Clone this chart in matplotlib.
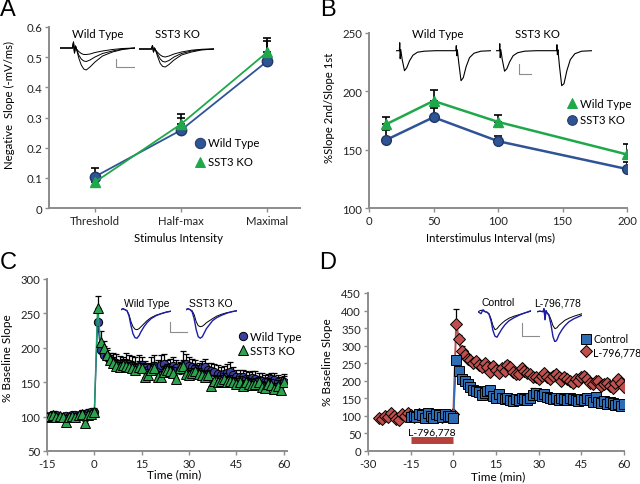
import numpy as np
import matplotlib
matplotlib.use('Agg')
import matplotlib.pyplot as plt
from matplotlib.ticker import FuncFormatter

plt.rcParams['font.family'] = ['Lato', 'DejaVu Sans']
plt.rcParams['axes.unicode_minus'] = False
plt.rcParams['font.size'] = 8

W, H = 640, 485
GRAY = '#8c8c8c'
BLUE = '#2f5496'
GREEN = '#1fa84a'
NAVY = '#3b3f9f'
TRACE_BLUE = '#1c1ca8'
SQ_BLUE = '#2e6db4'
RED = '#c0504d'
FS = 8.2

# ---------------- data ----------------
# A: input/output
a_categories = ['Threshold', 'Half-max', 'Maximal']
a_wt = [0.104, 0.258, 0.486]
a_wt_err = [0.030, 0.052, 0.069]
a_ko = [0.086, 0.278, 0.516]
a_ko_err = [0.015, 0.022, 0.047]

# B: paired pulse
b_isi = [13, 50, 100, 200]
b_wt = [171.6, 191.8, 173.8, 145.9]
b_wt_err = [6.8, 9.2, 5.7, 9.1]
b_ko = [158.2, 177.8, 157.3, 133.4]
b_ko_err = [9.0, 7.7, 4.5, 6.2]

# C: LTP, wild type vs SST3 KO (t = -15..60 min)
c_wt = [100, 101, 103, 102, 99, 100, 101, 100, 102, 103, 101, 104, 103, 105, 106, 107,
        238, 197, 190, 186, 182, 180, 178, 177, 176, 178,
        177, 175, 172, 174, 175, 170, 168, 172, 173, 170,
        175, 177, 170, 172, 173, 170, 168, 175, 177, 174,
        172, 170, 168, 170, 172, 168, 166, 165, 162, 160,
        162, 164, 165, 160, 158, 157, 158, 155, 154, 156,
        155, 153, 152, 150, 152, 155, 153, 150, 148, 150]
c_wt_err = [4, 4, 5, 4, 4, 5, 4, 4, 5, 4, 5, 5, 4, 6, 5, 5,
            15, 12, 12, 11, 10, 12, 13, 11, 10, 14,
            12, 13, 14, 15, 12, 11, 10, 14, 16, 12,
            15, 14, 12, 11, 13, 12, 11, 20, 14, 12,
            11, 12, 10, 11, 12, 10, 12, 11, 13, 12,
            11, 13, 14, 12, 10, 11, 10, 12, 11, 10,
            11, 10, 12, 11, 10, 9, 10, 11, 10, 12]
c_ko = [100, 101, 102, 100, 101, 99, 92, 100, 101, 100, 102, 104, 91, 103, 104, 106,
        258, 208, 200, 190, 182, 178, 173, 172, 175, 173,
        172, 170, 168, 172, 170, 158, 160, 168, 170, 158,
        158, 165, 168, 166, 163, 155, 170, 173, 162, 160,
        163, 166, 162, 160, 158, 160, 145, 152, 150, 152,
        155, 150, 152, 150, 148, 150, 145, 150, 148, 146,
        148, 150, 143, 142, 148, 146, 140, 145, 138, 150]
c_ko_err = [3, 3, 4, 3, 3, 4, 3, 3, 4, 3, 4, 4, 3, 4, 4, 4,
            18, 17, 10, 9, 8, 8, 9, 8, 8, 9,
            8, 9, 8, 9, 8, 8, 9, 8, 9, 8,
            8, 9, 8, 8, 9, 8, 8, 9, 8, 8,
            8, 9, 8, 8, 9, 8, 8, 8, 9, 8,
            8, 9, 8, 8, 8, 9, 8, 8, 8, 9,
            8, 8, 9, 8, 8, 8, 9, 8, 8, 9]

# D: LTP, control vs L-796,778
d_ctrl = [98, 100, 96, 105, 102, 95, 108, 100, 94, 106, 103, 97, 104, 100, 99, 95,
          258, 228, 205, 200, 192, 182, 175, 170, 168, 160,
          165, 172, 175, 158, 152, 162, 150, 148, 152, 145,
          143, 148, 145, 150, 147, 145, 150, 160, 165, 160,
          158, 162, 155, 150, 148, 152, 145, 150, 148, 145,
          150, 148, 145, 142, 148, 145, 150, 145, 140, 155,
          140, 138, 142, 135, 140, 138, 130, 135, 128, 135]
d_ctrl_err = [5, 6, 5, 6, 5, 6, 5, 6, 5, 6, 5, 6, 5, 6, 5, 6,
              10, 8, 8, 7, 7, 7, 6, 6, 7, 6,
              7, 8, 7, 6, 6, 7, 6, 6, 6, 6,
              6, 6, 6, 6, 6, 6, 8, 20, 12, 10,
              8, 7, 6, 6, 6, 7, 6, 6, 6, 6,
              6, 6, 6, 6, 6, 6, 7, 6, 6, 7,
              6, 6, 6, 6, 6, 6, 6, 6, 6, 6]
d_drug = [95, 92, 100, 98, 108, 100, 92, 88, 105, 100, 108, 102, 98, 100, 105, 103,
          100, 102, 98, 100, 103, 100, 98, 102, 100, 101, 105,
          363, 318, 285, 272, 262, 258, 250, 255, 245, 240,
          250, 238, 225, 242, 230, 222, 235, 228, 245, 238,
          225, 218, 220, 235, 228, 222, 218, 212, 210, 205,
          215, 222, 210, 205, 215, 218, 210, 200, 212, 205,
          200, 195, 205, 200, 210, 215, 205, 195, 190, 200,
          198, 185, 190, 195, 185, 180, 195, 205, 195, 182]
d_drug_err = [5] * 27 + [42, 12, 15, 12, 10, 10, 9, 9, 9, 9,
                         9, 9, 9, 9, 9, 9, 9, 9, 10, 9,
                         9, 9, 9, 9, 9, 9, 9, 9, 9, 9,
                         9, 9, 9, 9, 9, 9, 9, 9, 9, 9,
                         9, 9, 9, 9, 10, 9, 9, 9, 9, 9,
                         9, 9, 9, 9, 9, 9, 9, 9, 9, 9]
d_drug_window = [-15, 0]

c_time = np.arange(-15, 61)
d_ctrl_time = np.arange(-15, 61)
d_drug_time = np.arange(-26, 61)

# example traces (hand)
ta = [0, 5, 5.4, 5.8, 6.2, 6.6, 7.5, 8.5, 9.5, 10.5, 12, 14, 17, 21, 25, 30]
a_wt_traces = [
    [0, 0, 0.6, -0.5, 0.2, -0.1, -1.0, -1.7, -2.1, -2.2, -1.9, -1.4, -0.8, -0.4, -0.15, 0],
    [0, 0, 0.6, -0.5, 0.2, -0.1, -0.7, -1.1, -1.3, -1.35, -1.2, -0.9, -0.55, -0.3, -0.1, 0],
    [0, 0, 0.6, -0.5, 0.2, -0.1, -0.35, -0.55, -0.65, -0.65, -0.6, -0.45, -0.3, -0.15, -0.05, 0],
]
a_ko_traces = [
    [0, 0, 0.35, -0.3, 0.1, -0.1, -0.8, -1.45, -1.75, -1.8, -1.55, -1.1, -0.6, -0.3, -0.1, 0],
    [0, 0, 0.35, -0.3, 0.1, -0.1, -0.55, -1.0, -1.25, -1.3, -1.15, -0.8, -0.45, -0.2, -0.05, 0],
    [0, 0, 0.35, -0.3, 0.1, -0.1, -0.35, -0.6, -0.75, -0.8, -0.7, -0.5, -0.3, -0.12, -0.03, 0],
]
tb = [0, 3, 3.3, 3.7, 4.2, 5.5, 7.5, 9.5, 12, 15, 19, 25, 35, 53, 53.3, 53.7, 54.2,
      55.5, 57.5, 59.5, 62, 65, 69, 75, 84]
b_wt_trace = [0, 0, 0.8, -0.8, 0.1, -0.9, -2.0, -1.7, -1.0, -0.45, -0.15, -0.05, 0, 0,
              0.5, -0.5, 0.1, -1.2, -3.0, -2.7, -1.6, -0.7, -0.25, -0.05, 0]
b_ko_trace = [0, 0, 0.7, -0.7, 0.1, -0.9, -2.05, -1.8, -1.1, -0.5, -0.2, -0.05, 0, 0,
              0.6, -0.4, 0.1, -1.5, -3.5, -3.3, -2.0, -0.9, -0.3, -0.05, 0]
tc = [0, 2, 4, 6, 8, 10, 12, 14, 16, 18, 20, 23, 26, 30, 35, 40, 45, 50]
c_wt_black = [0.1, 0.2, 0.1, 0, -0.4, -1.1, -1.6, -1.85, -1.9, -1.8, -1.6, -1.3, -1.0, -0.7, -0.45, -0.3, -0.15, -0.05]
c_wt_blue = [0.1, 0.2, 0.1, 0, -0.5, -1.5, -2.3, -2.7, -2.75, -2.5, -2.1, -1.6, -1.2, -0.8, -0.5, -0.3, -0.15, -0.05]
c_ko_black = [0.1, 0.2, 0.1, 0, -0.4, -1.1, -1.5, -1.6, -1.55, -1.4, -1.2, -1.0, -0.8, -0.55, -0.35, -0.2, -0.1, 0]
c_ko_blue = [0.1, 0.2, 0.1, -0.1, -0.8, -1.9, -2.6, -2.75, -2.6, -2.2, -1.8, -1.4, -1.0, -0.7, -0.45, -0.25, -0.1, 0]
td_ctrl = [0, 3, 5, 7, 9, 11, 13, 15, 17, 19, 21, 24, 27, 31, 36, 41, 46, 53]
d_ctrl_black = [0, 0.15, 0.1, 0, -0.05, -0.2, -0.7, -1.4, -1.8, -1.7, -1.45, -1.15, -0.9, -0.65, -0.45, -0.3, -0.15, 0.05]
d_ctrl_blue = [0, -0.2, 0.2, 0, -0.05, -0.25, -0.9, -1.9, -2.45, -2.55, -2.2, -1.7, -1.3, -0.9, -0.6, -0.35, -0.15, 0.1]
td_drug = [0, 3, 6, 7, 8, 9, 10, 12, 14, 16, 18, 20, 22, 25, 28, 32, 37, 45]
d_drug_black = [0, 0.05, 0, 0.3, -0.8, 0.1, -0.1, -0.3, -0.8, -1.4, -1.7, -1.6, -1.35, -1.1, -0.85, -0.65, -0.45, -0.2]
d_drug_blue = [0, 0.05, 0, 0.3, -0.8, 0.1, -0.1, -0.4, -1.3, -2.5, -3.05, -2.8, -2.3, -1.8, -1.4, -1.0, -0.7, -0.35]


def px_axes(left, top, width, height):
    return fig.add_axes([left / W, 1 - (top + height) / H, width / W, height / H])


def style(ax):
    for s in ['top', 'right']:
        ax.spines[s].set_visible(False)
    for s in ['left', 'bottom']:
        ax.spines[s].set_color(GRAY)
        ax.spines[s].set_linewidth(1.4)
    ax.tick_params(colors=GRAY, labelcolor='#222222', length=3, width=1,
                   labelsize=FS, pad=2)


def key(ax, x, y, marker, face, edge, label, ms, fs=FS):
    ax.plot([x], [y], marker=marker, ms=ms, mfc=face, mec=edge, mew=0.7,
            transform=ax.transAxes, clip_on=False, ls='none')
    ax.text(x + 0.03, y, label, transform=ax.transAxes, va='center', ha='left',
            fontsize=fs)


def inset(left, top, width, height, xlim, ylim):
    ax = px_axes(left, top, width, height)
    ax.set_xlim(*xlim)
    ax.set_ylim(*ylim)
    ax.axis('off')
    return ax


def label(px, py, s, **kw):
    fig.text(px / W, 1 - py / H, s, ha='center', va='center', **kw)


fig = plt.figure(figsize=(6.4, 4.85), dpi=100)

# ---------------- A ----------------
axA = px_axes(49, 28, 251, 181)
style(axA)
xa = np.arange(len(a_categories))
axA.errorbar(xa, a_wt, yerr=[np.zeros(3), a_wt_err], fmt='none', ecolor='black',
             elinewidth=1.2, capsize=3, capthick=1.2, zorder=2)
axA.errorbar(xa, a_ko, yerr=[np.zeros(3), a_ko_err], fmt='none', ecolor='black',
             elinewidth=1.2, capsize=3, capthick=1.2, zorder=2)
axA.plot(xa, a_wt, color=BLUE, lw=1.3, marker='o', ms=7.5, mfc=BLUE, mec='#1f3864', zorder=3)
axA.plot(xa, a_ko, color=GREEN, lw=1.3, marker='^', ms=7.5, mfc=GREEN, mec=GREEN, zorder=4)
axA.set_xlim(-0.535, 2.384)
axA.set_ylim(0, 0.6)
axA.set_yticks(np.arange(0, 0.61, 0.1))
axA.yaxis.set_major_formatter(FuncFormatter(lambda v, p: '0' if abs(v) < 1e-9 else f'{v:.1f}'))
axA.set_xticks(xa)
axA.set_xticklabels(a_categories)
axA.set_ylabel('Negative  Slope (-mV/ms)', fontsize=FS)
axA.yaxis.set_label_coords(-0.137, 0.575)
axA.set_xlabel('Stimulus Intensity', fontsize=FS)
axA.xaxis.set_label_coords(0.514, -0.135)
key(axA, 0.602, 0.36, 'o', BLUE, '#1f3864', 'Wild Type', 7.5)
key(axA, 0.602, 0.255, '^', GREEN, GREEN, 'SST3 KO', 7.5)

ia = inset(60, 42, 75, 30, (0, 30), (-2.3, 0.7))
for tr in a_wt_traces:
    ia.plot(ta, tr, color='black', lw=0.7)
ia.plot([22.4, 22.4, 29.6], [-1.1, -1.9, -1.9], color=GRAY, lw=0.8)
ia2 = inset(139, 43, 75, 30, (0, 30), (-2.3, 0.7))
for tr in a_ko_traces:
    ia2.plot(ta, tr, color='black', lw=0.7)
label(98, 35, 'Wild Type', fontsize=FS)
label(177, 35, 'SST3 KO', fontsize=FS)

# ---------------- B ----------------
axB = px_axes(369, 34, 258, 175)
style(axB)
axB.errorbar(b_isi, b_wt, yerr=[np.zeros(4), b_wt_err], fmt='none', ecolor='black',
             elinewidth=1.2, capsize=3, capthick=1.2, zorder=2)
axB.errorbar(b_isi, b_ko, yerr=[np.zeros(4), b_ko_err], fmt='none', ecolor='black',
             elinewidth=1.2, capsize=3, capthick=1.2, zorder=2)
axB.plot(b_isi, b_ko, color=BLUE, lw=1.8, marker='o', ms=7, mfc=BLUE, mec='#1f3864', zorder=3)
axB.plot(b_isi, b_wt, color=GREEN, lw=1.8, marker='^', ms=7, mfc=GREEN, mec=GREEN, zorder=4)
axB.set_xlim(0, 200)
axB.set_ylim(100, 250)
axB.set_xticks([0, 50, 100, 150, 200])
axB.set_yticks([100, 150, 200, 250])
axB.set_ylabel('%Slope 2nd/Slope 1st', fontsize=FS)
axB.yaxis.set_label_coords(-0.132, 0.577)
axB.set_xlabel('Interstimulus Interval (ms)', fontsize=FS)
axB.xaxis.set_label_coords(0.47, -0.135)
key(axB, 0.786, 0.6, '^', GREEN, GREEN, 'Wild Type', 7)
key(axB, 0.786, 0.503, 'o', BLUE, '#1f3864', 'SST3 KO', 7)

ib = inset(396, 41.7, 95, 46, (0, 84), (-3.6, 1.0))
ib.plot(tb, b_wt_trace, color='black', lw=0.8)
ib2 = inset(496, 41.7, 96, 46, (0, 84), (-3.6, 1.0))
ib2.plot(tb, b_ko_trace, color='black', lw=0.8)
ib2.plot([20.1, 20.1, 30.6], [-1.33, -2.33, -2.33], color=GRAY, lw=0.8)
label(438, 35, 'Wild Type', fontsize=FS)
label(537, 35, 'SST3 KO', fontsize=FS)

# ---------------- C ----------------
axC = px_axes(47, 280, 240, 172)
style(axC)
axC.errorbar(c_time, c_wt, yerr=[np.zeros(len(c_wt)), c_wt_err], fmt='none', ecolor='black',
             elinewidth=0.9, capsize=2.2, capthick=0.9, zorder=2)
axC.plot(c_time, c_wt, color='#1f3a7a', lw=1.0, marker='o', ms=6, mfc=NAVY, mec='black',
         mew=0.7, zorder=3)
axC.errorbar(c_time, c_ko, yerr=[np.zeros(len(c_ko)), c_ko_err], fmt='none', ecolor='black',
             elinewidth=0.9, capsize=2.2, capthick=0.9, zorder=4)
axC.plot(c_time, c_ko, color='#1f9e6e', lw=1.0, marker='^', ms=6.5, mfc='#2ca24f', mec='black',
         mew=0.7, zorder=5)
axC.set_xlim(-15, 61)
axC.set_ylim(50, 300)
axC.set_xticks([-15, 0, 15, 30, 45, 60])
axC.set_yticks([50, 100, 150, 200, 250, 300])
axC.set_ylabel('% Baseline Slope', fontsize=8.5)
axC.yaxis.set_label_coords(-0.142, 0.547)
axC.set_xlabel('Time (min)', fontsize=8.5)
axC.xaxis.set_label_coords(0.53, -0.1)
key(axC, 0.815, 0.667, 'o', NAVY, 'black', 'Wild Type', 6)
key(axC, 0.815, 0.585, '^', '#2ca24f', 'black', 'SST3 KO', 6.5)

ic = inset(121, 306.7, 50, 35, (0, 50), (-3.0, 0.5))
ic.plot(tc, c_wt_black, color='black', lw=0.7)
ic.plot(tc, c_wt_blue, color=TRACE_BLUE, lw=1.0)
ic.plot([49, 49, 66], [-1.13, -2.13, -2.13], color=GRAY, lw=0.8, clip_on=False)
ic2 = inset(186, 306.7, 51, 35, (0, 50), (-3.0, 0.5))
ic2.plot(tc, c_ko_black, color='black', lw=0.7)
ic2.plot(tc, c_ko_blue, color=TRACE_BLUE, lw=1.0)
label(147, 304, 'Wild Type', fontsize=7.5, family=['Liberation Sans', 'DejaVu Sans'])
label(211, 304, 'SST3 KO', fontsize=7.5, family=['Liberation Sans', 'DejaVu Sans'])

# ---------------- D ----------------
axD = px_axes(368, 294, 256, 158)
style(axD)
axD.errorbar(d_drug_time, d_drug, yerr=[np.zeros(len(d_drug)), d_drug_err], fmt='none',
             ecolor='black', elinewidth=0.9, capsize=2.2, capthick=0.9, zorder=2)
axD.plot(d_drug_time, d_drug, color=RED, lw=1.4, marker='D', ms=6.5, mfc=RED, mec='black',
         mew=0.7, zorder=3)
axD.errorbar(d_ctrl_time, d_ctrl, yerr=[np.zeros(len(d_ctrl)), d_ctrl_err], fmt='none',
             ecolor='black', elinewidth=0.9, capsize=2.2, capthick=0.9, zorder=4)
axD.plot(d_ctrl_time, d_ctrl, color=SQ_BLUE, lw=1.2, marker='s', ms=7, mfc=SQ_BLUE, mec='black',
         mew=0.7, zorder=5)
axD.plot(d_drug_window, [32, 32], color='#b5413c', lw=5, solid_capstyle='butt', zorder=1)
axD.text(np.mean(d_drug_window), 54, 'L-796,778', ha='center', va='center', fontsize=7.5)
axD.set_xlim(-30, 60)
axD.set_ylim(0, 450)
axD.set_xticks([-30, -15, 0, 15, 30, 45, 60])
axD.set_yticks(np.arange(0, 451, 50))
axD.set_ylabel('% Baseline Slope', fontsize=8.5)
axD.yaxis.set_label_coords(-0.137, 0.57)
axD.set_xlabel('Time (min)', fontsize=8.5)
axD.xaxis.set_label_coords(0.51, -0.12)
key(axD, 0.85, 0.71, 's', SQ_BLUE, 'black', 'Control', 6.5, fs=7.6)
key(axD, 0.85, 0.63, 'D', RED, 'black', 'L-796,778', 6, fs=7.6)

idd = inset(478, 307.7, 53, 35, (0, 53), (-3.0, 0.5))
idd.plot(td_ctrl, d_ctrl_black, color='black', lw=0.7)
idd.plot(td_ctrl, d_ctrl_blue, color=TRACE_BLUE, lw=1.0)
idd.plot([44, 44, 61], [-1.13, -2.4, -2.4], color=GRAY, lw=0.8, clip_on=False)
idd2 = inset(537, 307.7, 45, 35, (0, 45), (-3.0, 0.5))
idd2.plot(td_drug, d_drug_black, color='black', lw=0.7)
idd2.plot(td_drug, d_drug_blue, color=TRACE_BLUE, lw=1.0)
label(498, 303, 'Control', fontsize=7.5, family=['Liberation Sans', 'DejaVu Sans'])
label(558, 303, 'L-796,778', fontsize=7.5, family=['Liberation Sans', 'DejaVu Sans'])

# panel letters
for s, px, py in [('A', 8, 10), ('B', 328, 10), ('C', 8, 263), ('D', 328, 263)]:
    label(px, py, s, fontsize=17, family=['Liberation Sans', 'DejaVu Sans'])

fig.savefig('out.png', dpi=100)
